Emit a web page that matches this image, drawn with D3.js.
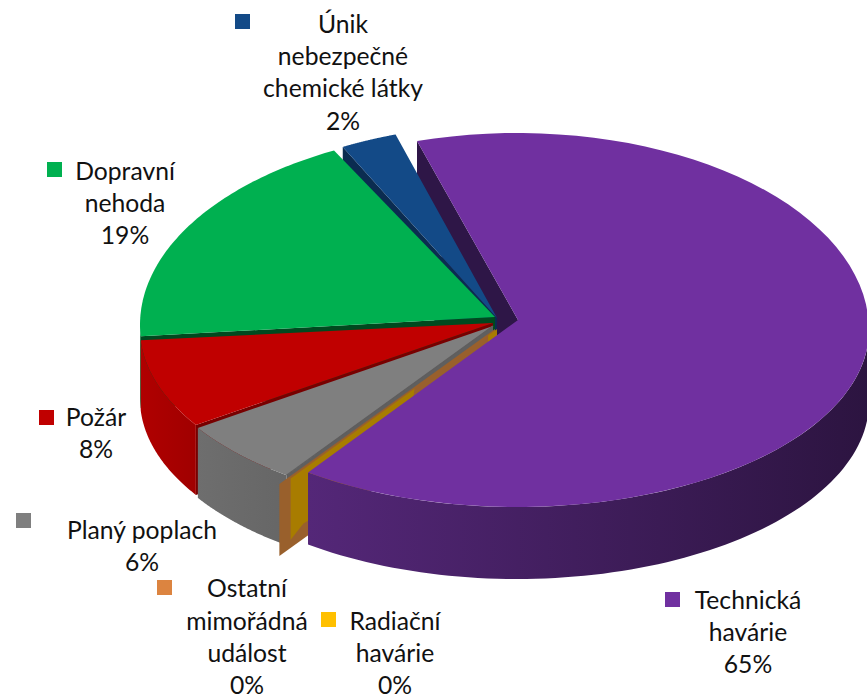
<!DOCTYPE html>
<html><head><meta charset="utf-8">
<script src="https://cdn.jsdelivr.net/npm/d3@7"></script>
<style>html,body{margin:0;padding:0;background:#fff;overflow:hidden}svg{display:block}
text{font-family:Lato,"Open Sans",sans-serif;font-size:24.7px;fill:#111}</style>
</head><body><svg id="c" width="867" height="698"></svg>
<script>
// data, in drawing order (clockwise from the back of the pie)
const categories = ["Technická havárie","Radiační havárie","Ostatní mimořádná událost","Planý poplach","Požár","Dopravní nehoda","Únik nebezpečné chemické látky"];
const values = [64.7,0.1,0.1,5.9,8.1,18.5,2.6];
const percentLabels = ["65%","0%","0%","6%","8%","19%","2%"];
const topColors = ["#7030a0","#ffc000","#ed7d31","#7f7f7f","#c00000","#00b050","#134a87"];
const keyColors = ["#7030a0","#ffc000","#dc8440","#7f7f7f","#c00000","#00b050","#134a87"];
const wallLeft  = ["#542778","#a87c00","#99602c","#6e6e6e","#b00000","#006a30","#0b2c50"];
const wallRight = ["#2c1440","#a87c00","#99602c","#666666","#a00000","#006a30","#0b2c50"];
const cutColors = ["#2e1647","#a87c00","#99602c","#5f5f5f","#780000","#00491f","#0b2c50"];

// label layout (separate from the data)
const labelLines = [["Technická","havárie"],["Radiační","havárie"],["Ostatní","mimořádná","událost"],["Planý poplach"],["Požár"],["Dopravní","nehoda"],["Únik","nebezpečné","chemické látky"]];
const labelX = [748,395,247,142,96,125,343];
const labelY = [600,621,588.6,530,417,171,24];
const legendX = [665,321,157,16,39,47,235];
const legendY = [592,612,580,513,410,162,14];
const lineGap = 32.4;

// 3D pie model: each slice has its own point (apex) and its own rim ellipse
const ryFront = 177, startDeg = -16.5, leftTurnDeg = -1.2;
const apexX = [518,497,495,493,493,495,497];
const apexY = [320,329,329,326,323,317,318];
const rimX  = [517,492.5,483,492,490,496,502];
const rimY  = [330,334,340,332,329,325,325];
const rimR  = [352,350,350,350,350,356,350];
const ryBack = [197,200,200,200,200,196,200];
const depths = [72,72,72,70,70,72,72];

const svg = d3.select("#c");
const defs = svg.append("defs");
const toRad = Math.PI/180;
const pie = d3.pie().sort(null).startAngle(startDeg*toRad).endAngle((startDeg+360)*toRad);
const arcs = pie(values).map((d,i)=>i===0?d:{...d,startAngle:d.startAngle+leftTurnDeg*toRad,endAngle:d.endAngle+leftTurnDeg*toRad});
const arcOf = i => arcs[i];
const yFront = d3.scaleLinear().domain([0,1]).range([0,ryFront]);
const rim = (i,a)=>{
  const c=Math.cos(a);
  return [rimX[i]+rimR[i]*Math.sin(a), rimY[i]+(c>=0?-ryBack[i]*c:yFront(-c))];
};
const P = (i,a,r=1,z=0)=>{
  const q=rim(i,a);
  return [apexX[i]+(q[0]-apexX[i])*r, apexY[i]+(q[1]-apexY[i])*r+z*depths[i]];
};
const poly = pts => d3.line()(pts)+"Z";
const sample = (a0,a1) => d3.range(0,81).map(k=>a0+(a1-a0)*k/80);
const topPath = i => { const d=arcOf(i); return poly([P(i,0,0),...sample(d.startAngle,d.endAngle).map(a=>P(i,a))]); };
const frontRange = i => { const d=arcOf(i); return [Math.max(d.startAngle,Math.PI/2),Math.min(d.endAngle,Math.PI*1.5)]; };
const outerWall = i => {
  const [a0,a1]=frontRange(i);
  if(a1<=a0) return null;
  const s=sample(a0,a1);
  return poly([...s.map(a=>P(i,a)),...s.slice().reverse().map(a=>P(i,a,1,1))]);
};
const cutWall = (i,a) => poly([P(i,a,0),P(i,a,1),P(i,a,1,1),P(i,a,0,1)]);

function wallGrad(i){
  const [a0,a1]=frontRange(i);
  const xs=[P(i,a0)[0],P(i,a1)[0]];
  const g=defs.append("linearGradient").attr("id","w"+i).attr("gradientUnits","userSpaceOnUse")
    .attr("x1",d3.min(xs)).attr("x2",d3.max(xs)).attr("y1",0).attr("y2",0);
  g.append("stop").attr("offset",0).attr("stop-color",wallLeft[i]);
  g.append("stop").attr("offset",1).attr("stop-color",wallRight[i]);
  return `url(#w${i})`;
}
const g = svg.append("g");
const draw=(dd,fill)=>{ if(dd) g.append("path").attr("d",dd).attr("fill",fill); };

// back cut of the large slice sits behind everything
draw(cutWall(0,arcOf(0).startAngle),cutColors[0]);
// back to front: blue, green, red, grey
[6,5,4,3].forEach(i=>{
  const d=arcOf(i);
  draw(cutWall(i,d.startAngle),cutColors[i]);
  draw(outerWall(i),wallGrad(i));
  draw(topPath(i),topColors[i]);
});
// the two empty slices: only their cut faces show in the gap
// shapes are in wall coordinates: [distance from the point, depth]
const angO = arcOf(2).startAngle, angY = arcOf(1).startAngle;
const orangeFace=[[0,0],[1,0],[1,1],[0,1]];
const goldFace=[[0.4,0],[1,0],[1,0.85],[0.938,0.753],[0.895,0.77],[0.895,0.16],[0.405,0.11]];
const goldTip=[[0,0],[0.043,0],[0.043,0.1],[0,0.15]];
draw(poly(orangeFace.map(([r,z])=>P(2,angO,r,z))),wallLeft[2]);
draw(poly(goldFace.map(([r,z])=>P(1,angY,r,z))),wallLeft[1]);
draw(poly(goldTip.map(([r,z])=>P(1,angY,r,z))),wallLeft[1]);
// thin dark edge of the grey slice
g.append("path").attr("d",d3.line()([P(3,arcOf(3).startAngle,0),P(3,arcOf(3).startAngle,1)]))
  .attr("stroke",cutColors[3]).attr("stroke-width",1.4).attr("fill","none");
// large slice front
draw(outerWall(0),wallGrad(0));
draw(topPath(0),topColors[0]);

// labels and legend keys
const lab = svg.append("g");
categories.forEach((c,i)=>{
  lab.append("rect").attr("x",legendX[i]).attr("y",legendY[i]).attr("width",15).attr("height",15).attr("fill",keyColors[i]);
  const t=lab.append("text").attr("text-anchor","middle");
  [...labelLines[i],percentLabels[i]].forEach((s,k)=>{
    t.append("tspan").attr("x",labelX[i]).attr("y",labelY[i]+k*lineGap).attr("dy","0.35em").text(s);
  });
});
</script></body></html>
